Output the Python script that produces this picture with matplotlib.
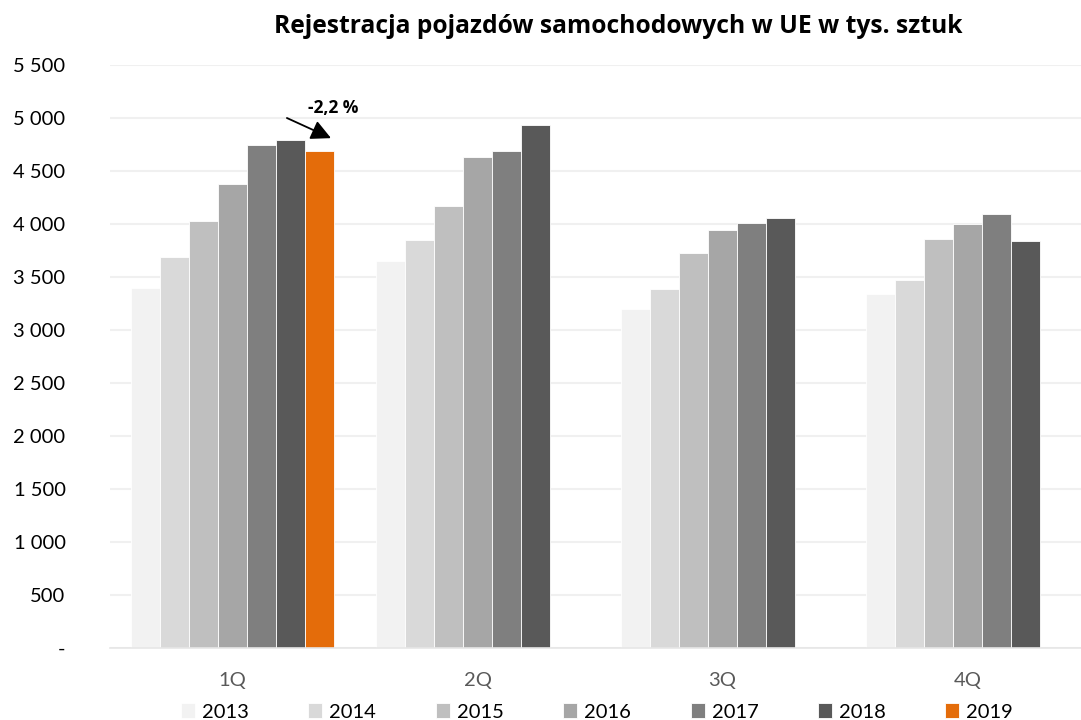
import matplotlib
matplotlib.use("Agg")
import matplotlib.pyplot as plt
import numpy as np

plt.rcParams['font.family'] = ['Lato', 'DejaVu Sans']

categories = ["1Q", "2Q", "3Q", "4Q"]
years = ["2013", "2014", "2015", "2016", "2017", "2018", "2019"]
v2013 = [3396, 3654, 3198, 3337]
v2014 = [3689, 3845, 3387, 3475]
v2015 = [4031, 4170, 3726, 3858]
v2016 = [4380, 4628, 3943, 3997]
v2017 = [4745, 4685, 4005, 4097]
v2018 = [4790, 4937, 4057, 3840]
v2019 = [4685, None, None, None]
series = [v2013, v2014, v2015, v2016, v2017, v2018, v2019]
colors = ["#F2F2F2", "#D9D9D9", "#BFBFBF", "#A6A6A6", "#7F7F7F", "#595959", "#E46C0A"]
yticks = [0, 500, 1000, 1500, 2000, 2500, 3000, 3500, 4000, 4500, 5000, 5500]
title = "Rejestracja pojazdów samochodowych w UE w tys. sztuk"

W, H = 1081, 720
fig = plt.figure(figsize=(W / 100, H / 100), dpi=100)
ax = fig.add_axes([110 / W, (H - 648) / H, 980 / W, 583 / H])

x = np.arange(len(categories))
bw = 29 / 245
for i, (vals, col, yr) in enumerate(zip(series, colors, years)):
    xs = [xi + (i - 3) * bw for xi, v in zip(x, vals) if v is not None]
    vs = [v for v in vals if v is not None]
    ax.bar(xs, vs, width=bw, color=col, edgecolor="white", linewidth=0.6, label=yr, zorder=3)

ax.set_xlim(-0.5, len(categories) - 0.5)
ax.set_ylim(0, 5500)
ax.set_yticks(yticks)
ax.set_yticklabels(["-" if t == 0 else f"{t:,}".replace(",", " ") for t in yticks])
ax.set_xticks(x)
ax.set_xticklabels(categories, color="#595959")
ax.tick_params(axis="y", length=0, pad=32, labelsize=14.5, labelcolor="black")
ax.tick_params(axis="x", length=0, pad=17, labelsize=14.5)
ax.grid(axis="y", color="#F0F0F0", linewidth=1.5, zorder=0)
for s in ["top", "right", "left"]:
    ax.spines[s].set_visible(False)
ax.spines["bottom"].set_color("#E6E6E6")
ax.spines["bottom"].set_linewidth(1.2)
ax.spines["bottom"].set_zorder(4)

# annotation for 2019 change
x19 = x[0] + 3 * bw
chg = (v2019[0] / v2018[0] - 1) * 100
label = f"{chg:.1f}".replace(".", ",") + " %"
ax.annotate("", xy=(x19 + 0.047, v2018[0] + 20), xytext=(x19 - 0.133, v2018[0] + 210),
            arrowprops=dict(arrowstyle="-|>", color="black", lw=1.3, mutation_scale=30,
                            shrinkA=0, shrinkB=0), zorder=5)
ax.text(x19 + 0.055, v2018[0] + 305, label, ha="center", va="center",
        fontsize=12.5, fontweight="bold", family=["Open Sans", "DejaVu Sans"], zorder=5)

fig.text(618 / W, 1 - 33 / H, title, ha="center", va="baseline", fontsize=17.7,
         fontweight="bold", family=["Open Sans", "DejaVu Sans"])

leg = fig.legend(loc="center", bbox_to_anchor=(597 / W, 1 - 712 / H), ncol=7, frameon=False,
                 fontsize=14.5, handlelength=0.7, handleheight=0.7, handletextpad=0.35,
                 columnspacing=2.95, borderaxespad=0)

fig.savefig("out.png", dpi=100)
